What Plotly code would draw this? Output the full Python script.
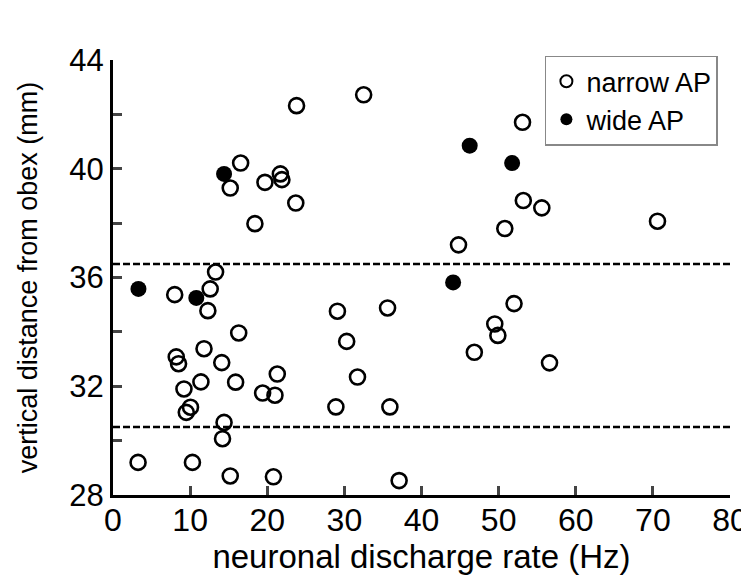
import plotly.graph_objects as go

#%% Data.

narrow_rate = [8.0, 12.6, 13.3, 12.3, 16.3, 11.8, 8.2, 8.5, 14.1, 21.3, 11.4, 15.9,
               9.2, 19.4, 21.0, 10.05, 9.5, 14.4, 14.2, 3.25, 10.3, 15.2, 20.8,
               23.8, 16.55, 15.2, 19.7, 21.7, 21.9, 23.7, 18.4,
               32.5, 53.1, 53.2, 55.6, 50.8, 44.8, 70.6,
               29.1, 35.6, 52.0, 49.5, 49.9, 30.3, 46.85, 56.6, 31.7, 28.9, 35.9, 37.1]
narrow_dist = [35.37, 35.58, 36.2, 34.78, 33.96, 33.38, 33.08, 32.83, 32.87, 32.45, 32.16, 32.15,
               31.9, 31.75, 31.67, 31.23, 31.04, 30.67, 30.07, 29.2, 29.2, 28.7, 28.67,
               42.32, 40.21, 39.29, 39.5, 39.81, 39.6, 38.74, 37.98,
               42.72, 41.71, 38.83, 38.56, 37.8, 37.2, 38.07,
               34.76, 34.88, 35.04, 34.29, 33.87, 33.65, 33.25, 32.86, 32.34, 31.24, 31.24, 28.53]

wide_rate = [3.3, 10.8, 14.4, 44.1, 46.25, 51.75]
wide_dist = [35.58, 35.25, 39.81, 35.82, 40.85, 40.21]

bounds = [36.5, 30.5]

x_ticks = list(range(0, 81, 10))
y_ticks = list(range(28, 45, 2))
y_labels = [str(v) if v % 4 == 0 else "" for v in y_ticks]

FONT = "Liberation Sans, Arial, sans-serif"

#%% Figure.

fig = go.Figure()

fig.add_trace(go.Scatter(x=narrow_rate, y=narrow_dist, mode="markers", name="narrow AP",
                         marker=dict(symbol="circle-open", size=15, color="black",
                                     line=dict(width=2.6, color="black"))))
fig.add_trace(go.Scatter(x=wide_rate, y=wide_dist, mode="markers", name="wide AP",
                         marker=dict(symbol="circle", size=16, color="black")))

for b in bounds:
    fig.add_shape(type="line", x0=0, x1=80, y0=b, y1=b, xref="x", yref="y",
                  line=dict(color="black", width=2.5, dash="7px,3px"))

fig.update_layout(
    width=749, height=582,
    margin=dict(l=105, r=27, t=52, b=95),
    paper_bgcolor="white", plot_bgcolor="white",
    font=dict(family=FONT, color="black"),
    showlegend=True,
    legend=dict(x=0.7, y=1.01, xanchor="left", yanchor="top",
                bordercolor="#888888", borderwidth=1.5, bgcolor="white",
                font=dict(size=27, family=FONT), itemsizing="constant",
                itemwidth=30, tracegroupgap=0),
)

fig.update_xaxes(range=[0, 80], tickvals=x_ticks, ticks="inside", ticklen=9, tickwidth=2.5,
                 showline=True, linewidth=3, linecolor="black", showgrid=False, zeroline=False,
                 automargin=False, tickfont=dict(size=32), ticklabelstandoff=-5,
                 title=dict(text="neuronal discharge rate (Hz)", font=dict(size=33), standoff=0))
fig.update_yaxes(range=[28, 44], tickvals=y_ticks, ticktext=y_labels, ticks="inside", ticklen=9,
                 tickwidth=2.5, showline=True, linewidth=3, linecolor="black", showgrid=False,
                 zeroline=False, automargin=False, tickfont=dict(size=31),
                 title=dict(text="vertical distance from obex (mm)", font=dict(size=27), standoff=24))

fig.write_html("out.html")
